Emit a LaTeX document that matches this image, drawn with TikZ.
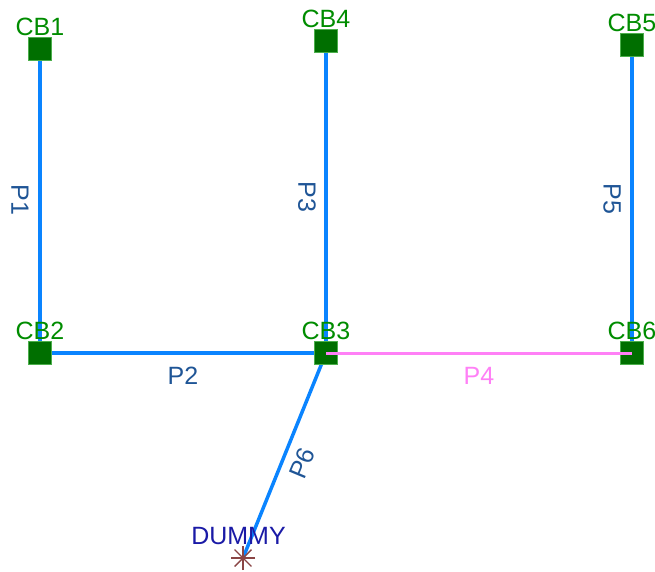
\documentclass[tikz,border=0pt]{standalone}
\usepackage{fontspec}
\setmainfont{Liberation Sans}
\usepackage{tikz}
\usetikzlibrary{positioning,backgrounds}
\definecolor{pipeblue}{HTML}{0A84FF}
\definecolor{tagblue}{HTML}{1F5596}
\definecolor{busgreen}{HTML}{006F00}
\colorlet{namegreen}{green!55!black}
\definecolor{linkpink}{HTML}{FF80F6}
\definecolor{dummynavy}{HTML}{1A1AA6}
\definecolor{starbrown}{HTML}{8A4545}
\tikzset{
  net/pipe/.style={pipeblue, line width=3.5pt},
  net/link/.style={linkpink, line width=3pt},
  net/bus/.style={draw=namegreen!70, fill=busgreen, line width=0.6pt, minimum size=23pt, inner sep=0pt},
  net/name/.style={text=namegreen, font=\fontsize{25}{25}\selectfont, inner sep=0pt},
  net/tag/.style={text=tagblue, font=\fontsize{25}{25}\selectfont, inner sep=0pt},
  net/star/.style={starbrown, line width=1.4pt}
}

\begin{document}
\begin{tikzpicture}[x=1pt, y=-1pt]
  \useasboundingbox (0,0) rectangle (655,571);
\node[net/bus] (cb1) at (40,49) {};
\node[net/bus] (cb2) at (40,353) {};
\node[net/bus] (cb3) at (326,353) {};
\node[net/bus] (cb4) at (326,41) {};
\node[net/bus] (cb5) at (632,45) {};
\node[net/bus] (cb6) at (632,353) {};
\coordinate (dummy) at (243,558);
\node[net/name, above=1pt of cb1] (cb1n) {CB1};
\node[net/name, above=1pt of cb2] (cb2n) {CB2};
\node[net/name, above=1pt of cb3] (cb3n) {CB3};
\node[net/name, above=1pt of cb4] (cb4n) {CB4};
\node[net/name, above=1pt of cb5] (cb5n) {CB5};
\node[net/name, above=1pt of cb6] (cb6n) {CB6};
\node[text=dummynavy, font=\fontsize{25}{25}\selectfont, inner sep=0pt] (dummyn) at (238.5,536.5) {DUMMY};
\begin{scope}[on background layer]
  \draw[net/pipe] (cb1.center) -- (cb2.center);
  \draw[net/pipe] (cb2.center) -- (cb3.center);
  \draw[net/pipe] (cb4.center) -- (cb3.center);
  \draw[net/pipe] (cb5.center) -- (cb6.center);
  \draw[net/pipe] (cb3.center) -- (dummy);
\end{scope}
\draw[net/link] (cb3.center) -- (cb6.center);
\foreach \a in {0,45,90,135}
  \draw[net/star, shift={(dummy)}] (\a:12) -- (\a+180:12);
\node[net/tag, rotate=-90] (p1) at (20,200) {P1};
\node[net/tag] (p2) at (183,376) {P2};
\node[net/tag, rotate=-90] (p3) at (307,197) {P3};
\node[net/tag, text=linkpink] (p4) at (479,376) {P4};
\node[net/tag, rotate=-90] (p5) at (612,199) {P5};
\node[net/tag, rotate=67.4] (p6) at (302,463) {P6};

\end{tikzpicture}
\end{document}
